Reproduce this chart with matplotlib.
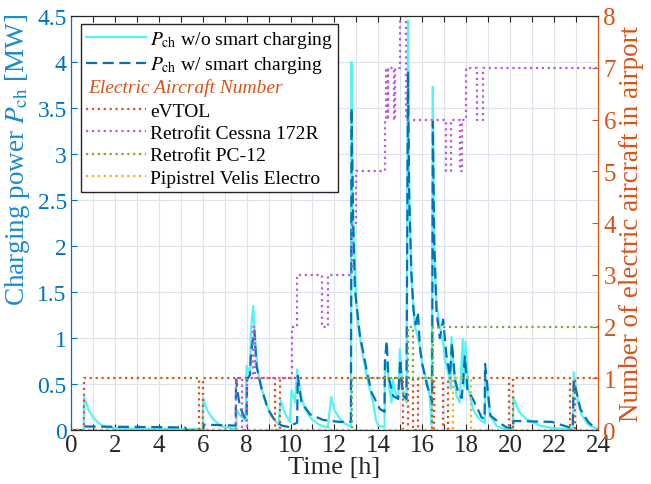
import matplotlib
matplotlib.use("Agg")
import matplotlib.pyplot as plt
from matplotlib.lines import Line2D

plt.rcParams['font.family'] = ['Liberation Serif', 'DejaVu Serif']
plt.rcParams['mathtext.fontset'] = 'stix'

# charging power without smart charging [MW]
t_nosmart = [0, 0.58, 0.6, 0.8, 1.0, 1.25, 1.5, 2.0, 3.0, 5.9, 6.0, 6.02, 6.2, 6.47, 6.7, 6.9, 7.3, 7.52,
             7.55, 7.7, 7.95, 8.0, 8.15, 8.2, 8.3, 8.4, 8.5, 8.65, 8.83, 9.0, 9.14, 9.3, 9.45, 9.55,
             9.75, 9.97, 10.05, 10.2, 10.3, 10.45, 10.65, 10.96, 11.3, 11.7, 11.85, 12.0, 12.25, 12.55,
             12.75, 12.78, 12.82, 12.9, 13.0, 13.1, 13.3, 13.5, 13.76, 13.9, 14.0, 14.28, 14.3, 14.4,
             14.5, 14.6, 14.66, 14.75, 14.9, 14.98, 15.1, 15.28, 15.35, 15.4, 15.5, 15.59, 15.66,
             15.75, 15.9, 16.0, 16.2, 16.35, 16.42, 16.48, 16.52, 16.58, 16.65, 16.8, 16.95, 17.03,
             17.2, 17.3, 17.33, 17.45, 17.56, 17.7, 17.84, 17.9, 17.97, 18.1, 18.3, 18.5, 18.7, 18.85,
             18.86, 19.1, 19.4, 19.8, 20.13, 20.15, 20.4, 20.75, 21.35, 22.0, 22.85, 22.9, 23.1,
             23.25, 23.55, 24]
p_nosmart = [0, 0, 0.36, 0.22, 0.14, 0.08, 0.04, 0.02, 0.01, 0.01, 0.0, 0.35, 0.22, 0.12, 0.07, 0.04, 0.02, 0.02,
             0.22, 0.16, 0.1, 0.7, 0.6, 1.1, 1.35, 0.95, 0.65, 0.48, 0.34, 0.22, 0.15, 0.1, 0.06, 0.32,
             0.18, 0.09, 0.43, 0.3, 0.66, 0.4, 0.23, 0.12, 0.06, 0.03, 0.36, 0.22, 0.12, 0.06,
             0.04, 4.0, 2.4, 2.0, 1.35, 1.1, 0.8, 0.55, 0.3, 0.1, 0.05, 0.03, 0.74, 0.7,
             0.45, 0.3, 0.55, 0.42, 0.34, 0.88, 0.45, 0.3, 4.45, 2.6, 1.72, 1.35, 1.13,
             1.06, 0.9, 0.7, 0.55, 0.34, 0.06, 3.73, 2.2, 1.72, 1.35, 1.13, 0.95, 0.77,
             0.6, 0.45, 1.01, 0.6, 0.37, 0.3, 0.99, 0.48, 0.96, 0.45, 0.23, 0.15, 0.1, 0.08,
             0.59, 0.15, 0.04, 0.01, 0.0, 0.36, 0.2, 0.12, 0.05, 0.02, 0.01, 0.63, 0.3,
             0.17, 0.06, 0.01]

# charging power with smart charging [MW]
t_smart = [0, 0.62, 0.65, 5.2, 5.25, 6.02, 6.05, 7.5, 7.52, 7.6, 7.7, 7.9, 8.0, 8.02, 8.15, 8.2, 8.35,
           8.45, 8.68, 8.97, 9.3, 9.6, 10.0, 10.1, 10.3, 10.33, 10.5, 10.9, 11.5, 12.25, 12.75, 12.78,
           12.85, 12.93, 13.16, 13.46, 13.69, 14.07, 14.28, 14.3, 14.38, 14.45, 14.68, 14.9, 15.0,
           15.1, 15.28, 15.35, 15.4, 15.5, 15.6, 15.7, 15.8, 15.9, 16.0, 16.2, 16.4, 16.45, 16.48,
           16.55, 16.65, 16.8, 16.95, 17.1, 17.26, 17.35, 17.49, 17.64, 17.8, 17.94, 18.05, 18.3,
           18.7, 18.84, 18.86, 19.1, 19.45, 19.84, 20.13, 20.15, 21.9, 22.7, 22.85, 22.9, 23.2,
           23.55, 23.93, 24]
p_smart = [0, 0, 0.04, 0.03, 0.0, 0.0, 0.06, 0.05, 0.55, 0.4, 0.25, 0.14, 0.12, 0.55, 0.6, 0.85, 1.08,
           0.7, 0.45, 0.23, 0.1, 0.05, 0.03, 0.06, 0.08, 0.59, 0.3, 0.17, 0.11, 0.09, 0.09, 3.5,
           2.3, 1.53, 1.03, 0.66, 0.41, 0.23, 0.2, 0.75, 0.97, 0.59, 0.37, 0.34, 0.77,
           0.38, 0.34, 3.9, 2.6, 1.72, 1.3, 1.15, 1.28, 0.88, 0.72, 0.5, 0.35, 0.3, 3.35,
           2.0, 1.28, 1.0, 1.2, 0.81, 0.59, 0.95, 0.55, 0.41, 0.35, 0.8, 0.45, 0.34,
           0.14, 0.12, 0.72, 0.16, 0.09, 0.03, 0.02, 0.1, 0.09, 0.03, 0.02, 0.54, 0.23,
           0.09, 0.01, 0.0]

# aircraft on the ground, step changes
t_evtol = [0, 0.6, 5.85, 6.02, 9.3, 9.52, 15.1, 15.35, 15.57, 15.8, 16.45, 16.52, 16.95, 17.18,
           19.95, 20.15, 22.75, 22.95, 24]
n_evtol = [0, 1, 0, 1, 0, 1, 0, 1, 0, 1, 0, 1, 0, 1, 0, 1, 0, 1, 1]

t_cessna = [0, 7.5, 7.78, 8.02, 8.3, 8.4, 10.06, 10.3, 11.45, 11.7, 12.78, 13.0, 14.3, 14.36, 14.42,
            14.46, 14.72, 14.76, 14.97, 15.28, 17.08, 17.3, 17.71, 17.83, 17.99, 18.47, 18.78, 24]
n_cessna = [0, 1, 0, 1, 2, 1, 2, 3, 2, 3, 4, 5, 6, 7, 6, 7, 6, 7, 8, 6, 5, 6, 5, 6, 7, 6, 7, 7]

t_pc12 = [0, 12.78, 15.35, 15.6, 16.48, 24]
n_pc12 = [0, 1, 2, 1, 2, 2]

t_velis = [0, 17.42, 18.2, 24]
n_velis = [0, 1, 0, 0]

blue = '#0072BD'
orange = '#D95319'

fig = plt.figure(figsize=(6.51, 4.85), dpi=100)
ax = fig.add_axes([0.109, 0.111, 0.8095, 0.854])
ax2 = ax.twinx()

ax.plot(t_nosmart, p_nosmart, color='#55F3F3', lw=1.6, label=r'$P_{\rm ch}$ w/o smart charging')
ax.plot(t_smart, p_smart, color=blue, lw=1.6, ls=(0, (5, 2.5)), label=r'$P_{\rm ch}$ w/ smart charging')

ax2.step(t_evtol, n_evtol, where='post', color=orange, lw=1.6, ls=':', label='eVTOL')
ax2.step(t_cessna, n_cessna, where='post', color='#B85CD6', lw=1.6, ls=':', label='Retrofit Cessna 172R')
ax2.step(t_pc12, n_pc12, where='post', color='#77AC30', lw=1.6, ls=':', label='Retrofit PC-12')
ax2.step(t_velis, n_velis, where='post', color='#EDB120', lw=1.6, ls=':', label='Pipistrel Velis Electro')

ax.set_xlim(0, 24)
ax.set_ylim(0, 4.5)
ax2.set_ylim(0, 8)

ax.set_xticks(range(0, 25))
ax.set_xticklabels([str(h) if h % 2 == 0 else '' for h in range(0, 25)])
ax.set_yticks([i * 0.5 for i in range(10)])
ax.set_yticklabels(['0', '0.5', '1', '1.5', '2', '2.5', '3', '3.5', '4', '4.5'])
ax2.set_yticks(range(0, 9))

ax.grid(True, color='#DDE3EA', lw=0.8)
ax.set_axisbelow(True)

ax.tick_params(axis='x', direction='in', length=4, top=True, labelsize=18, colors='#262626', pad=3)
ax.tick_params(axis='y', direction='in', length=4, labelsize=17, colors=blue, pad=3)
ax2.tick_params(axis='y', direction='in', length=4, labelsize=18, colors=orange, pad=4)
ax2.tick_params(axis='x', top=False)

for a in (ax, ax2):
    a.spines['left'].set_color(blue)
    a.spines['right'].set_color(orange)
    a.spines['top'].set_color('#262626')
    a.spines['bottom'].set_color('#262626')

ax.set_xlabel('Time [h]', fontsize=19, color='#262626', labelpad=0)
ax.set_ylabel(r'Charging power $P_{\rm ch}$ [MW]', fontsize=19.5, color='#1A8AD0')
ax.yaxis.set_label_coords(-0.074, 0.655)
ax2.set_ylabel('Number of electric aircraft in airport', fontsize=19.5, color=orange)
ax2.yaxis.set_label_coords(1.04, 0.5)

# legend: power curves, a header row, then aircraft types
h1, l1 = ax.get_legend_handles_labels()
h2, l2 = ax2.get_legend_handles_labels()
blank = Line2D([], [], color='none')
leg = ax2.legend(h1 + [blank] + h2, l1 + [' '] + l2, loc='upper left',
                 bbox_to_anchor=(0.019, 0.981), fontsize=14, frameon=True, fancybox=False,
                 edgecolor='#262626', framealpha=1, handlelength=3.1, handletextpad=0.2,
                 borderpad=0.25, labelspacing=0.24, borderaxespad=0)
leg.get_frame().set_linewidth(1.0)
ax2.text(0.032, 0.828, 'Electric Aircraft Number', transform=ax2.transAxes, fontsize=14,
         style='italic', color=orange, va='center', ha='left', zorder=10)

fig.savefig('out.png', dpi=100)
